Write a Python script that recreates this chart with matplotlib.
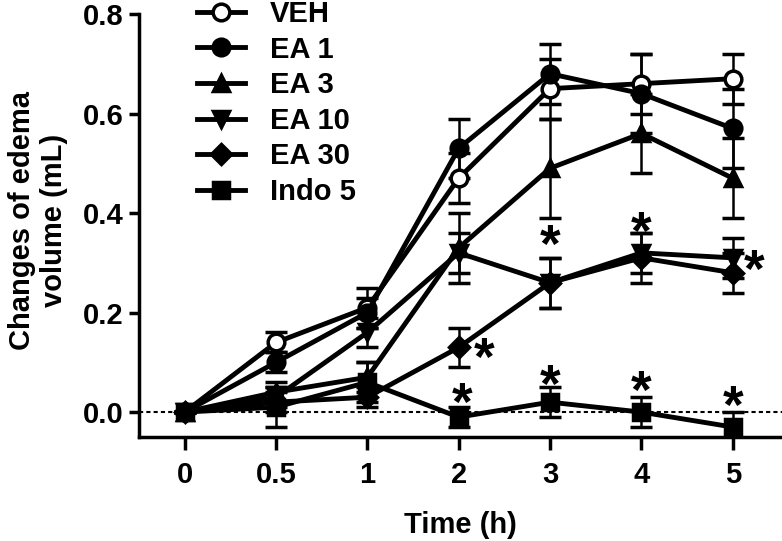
import matplotlib.pyplot as plt
from matplotlib.lines import Line2D
import numpy as np

# данные
times = ['0', '0.5', '1', '2', '3', '4', '5']
groups = ['VEH', 'EA 1', 'EA 3', 'EA 10', 'EA 30', 'Indo 5']

veh = [0, 0.14, 0.21, 0.47, 0.65, 0.66, 0.67]
veh_err = [0, 0.02, 0.04, 0.05, 0.06, 0.06, 0.05]
ea1 = [0, 0.10, 0.20, 0.53, 0.68, 0.64, 0.57]
ea1_err = [0, 0.02, 0.03, 0.06, 0.06, 0.08, 0.08]
ea3 = [0, 0.04, 0.07, 0.33, 0.49, 0.56, 0.47]
ea3_err = [0, 0.02, 0.03, 0.07, 0.10, 0.08, 0.08]
ea10 = [0, 0.03, 0.16, 0.32, 0.26, 0.32, 0.31]
ea10_err = [0, 0.02, 0.03, 0.04, 0.05, 0.04, 0.04]
ea30 = [0, 0.02, 0.03, 0.13, 0.26, 0.31, 0.28]
ea30_err = [0, 0.02, 0.02, 0.04, 0.05, 0.05, 0.04]
indo = [0, 0.01, 0.06, -0.01, 0.02, 0.00, -0.03]
indo_err = [0, 0.04, 0.04, 0.02, 0.03, 0.03, 0.03]

# звёздочки значимости: положение по оси времени (индекс) и по значению
star_x = [3.28, 3.04, 4, 5, 6.24, 4, 5, 6]
star_y = [0.126, 0.036, 0.353, 0.381, 0.303, 0.072, 0.060, 0.030]

plt.rcParams['font.family'] = ['Liberation Sans', 'DejaVu Sans']
plt.rcParams['font.weight'] = 'bold'
FS = 21

fig = plt.figure(figsize=(7.82, 5.41), dpi=100)
ax = fig.add_axes([139 / 782, 1 - 437 / 541, 1 - 139 / 782, (437 - 14) / 541])

x = np.arange(len(times))
series = [veh, ea1, ea3, ea10, ea30, indo]
errs = [veh_err, ea1_err, ea3_err, ea10_err, ea30_err, indo_err]
markers = ['o', 'o', '^', 'v', 'D', 's']
faces = ['white', 'black', 'black', 'black', 'black', 'black']
sizes = [12, 12, 12, 12, 10, 11]

ax.axhline(0, color='black', lw=1.5, ls=(0, (2, 1.5)), zorder=1)

handles = []
for name, y, e, m, fc, ms in zip(groups, series, errs, markers, faces, sizes):
    ax.errorbar(x, y, yerr=e, color='black', lw=3.5, marker=m, ms=ms,
                mfc=fc, mec='black', mew=2.5, elinewidth=1.8,
                capsize=8, capthick=1.8, zorder=3)
    handles.append(Line2D([], [], color='black', lw=3.5, marker=m, ms=ms,
                          mfc=fc, mec='black', mew=2.5, label=name))

for sx, sy in zip(star_x, star_y):
    ax.text(sx, sy - 0.024, '*', fontsize=38, ha='center', va='center')

ax.set_xlim(-0.5, 6.54)
ax.set_ylim(-0.05, 0.8)
ax.set_xticks(x)
ax.set_xticklabels(times)
ax.set_yticks([0, 0.2, 0.4, 0.6, 0.8])
ax.set_yticklabels(['0.0', '0.2', '0.4', '0.6', '0.8'])
ax.tick_params(labelsize=FS, width=2.5, length=7, pad=4)
ax.tick_params(axis='x', length=9, pad=8)

for s in ['top', 'right']:
    ax.spines[s].set_visible(False)
ax.spines['left'].set_linewidth(2.5)
ax.spines['bottom'].set_linewidth(2.5)

ax.set_xlabel('Time (h)', fontsize=FS, fontweight='bold', labelpad=16)
fig.text(38 / 782, 1 - 220 / 541, 'Changes of edema\nvolume (mL)', rotation=90,
         fontsize=FS, fontweight='bold', ha='center', va='center',
         multialignment='center', linespacing=1.15)

ax.legend(handles=handles, loc='upper left', bbox_to_anchor=(197 / 782, 1.0),
          bbox_transform=fig.transFigure, frameon=False, fontsize=FS,
          handlelength=1.65, handletextpad=0.85, labelspacing=0.26,
          borderpad=0, borderaxespad=0)

fig.savefig('out.png', dpi=100)
